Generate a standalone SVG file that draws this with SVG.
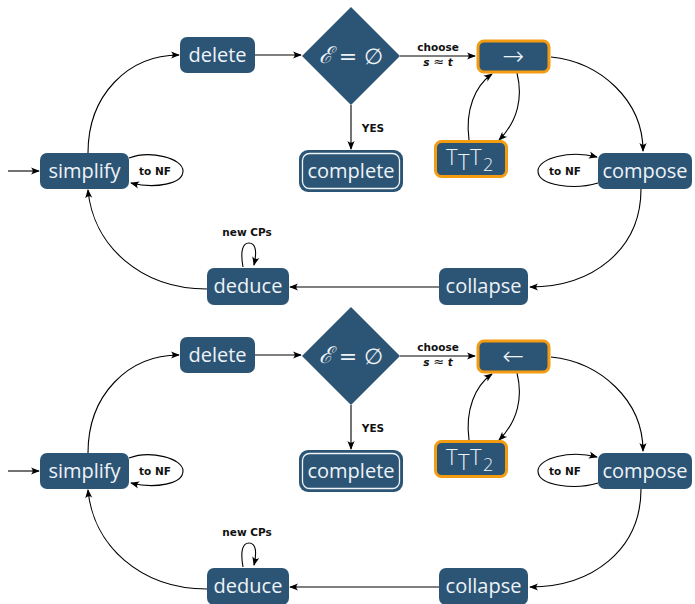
<svg xmlns="http://www.w3.org/2000/svg" width="695" height="604" viewBox="0 0 695 604">
  <style>
    .node { fill: #2c5575; }
    .hl { fill: #2c5575; stroke: #f39c12; stroke-width: 3; }
    .ntext { font-family: "Open Sans", "Liberation Sans", sans-serif; font-size: 20px; fill: #eef3f8; text-anchor: middle; }
    .logo { font-family: "Open Sans", "Liberation Sans", sans-serif; font-weight: 300; font-size: 22px; fill: #eef3f8; }
    .math { font-family: "DejaVu Serif", "Liberation Serif", serif; fill: #eef3f8; text-anchor: middle; }
    .arrowglyph { font-family: "DejaVu Sans", sans-serif; font-weight: 200; font-size: 26px; fill: #eef3f8; text-anchor: middle; }
    .lbl { font-family: "DejaVu Sans", "Liberation Sans", sans-serif; font-size: 10.5px; font-weight: 700; fill: #111; text-anchor: middle; }
    .edge { fill: none; stroke: #000; stroke-width: 1.1; marker-end: url(#arr); }
    .loop { fill: none; stroke: #000; stroke-width: 1.1; marker-end: url(#arr); }
  </style>
  <defs>
    <marker id="arr" viewBox="0 0 10 10" refX="9" refY="5" markerWidth="9" markerHeight="9" markerUnits="userSpaceOnUse" orient="auto">
      <path d="M0,1 Q4,5 0,9 L10,5 Z" fill="#000"/>
    </marker>
  </defs>

  <!-- upper cycle -->
  <g id="top">
    <g id="top-connectors">
      <path class="edge" d="M8,171 L39,171"/>
      <path class="edge" d="M88,153 C88,95 128,55 179,55"/>
      <path class="edge" d="M255,55 L301,55"/>
      <path class="edge" d="M400,56 L475,56"/>
      <path class="edge" d="M351,105 L351,149"/>
      <path class="edge" d="M551,57 C600,62 643,100 643,151"/>
      <path class="edge" d="M469,140 C465,110 475,86 492,74"/>
      <path class="edge" d="M517,73 C523,97 518,121 499,140"/>
      <path class="edge" d="M641,189 C641,250 592,287 530,287"/>
      <path class="edge" d="M439,287 L290,287"/>
      <path class="edge" d="M207,289 C140,289 93,245 88,190"/>
      <path class="loop" d="M129,158 C150,150 183,158 183,171 C183,184 155,189 131,183"/>
      <path class="loop" d="M598,183 C575,190 538,186 538,171 C538,158 570,150 597,157"/>
      <path class="loop" d="M243,267 C240,250 243,243 249,243 C256,243 257,252 254,265"/>
      <text class="lbl" x="438" y="51">choose</text>
      <text class="lbl" x="438" y="66"><tspan font-style="italic">s</tspan> <tspan font-size="13" font-weight="400">≈</tspan> <tspan font-style="italic">t</tspan></text>
      <text class="lbl" x="373" y="132">YES</text>
      <text class="lbl" x="155" y="175">to NF</text>
      <text class="lbl" x="565" y="175">to NF</text>
      <text class="lbl" x="247" y="236">new CPs</text>
    </g>
    <g id="top-simplify">
      <rect class="node" x="40" y="153" width="89" height="36" rx="7"/>
      <text class="ntext" x="84.5" y="178">simplify</text>
    </g>
    <g id="top-delete">
      <rect class="node" x="180" y="37" width="75" height="36" rx="7"/>
      <text class="ntext" x="217.5" y="62">delete</text>
    </g>
    <g id="top-check">
      <polygon class="node" points="351,7 400,56 351,105 302,56"/>
      <text class="math" x="326" y="63" font-size="23" font-style="italic">ℰ</text>
      <text class="math" x="348" y="64" font-size="22">=</text>
      <text class="math" x="373" y="64" font-size="22">∅</text>
    </g>
    <g id="top-orient">
      <rect class="hl" x="478" y="41" width="71" height="31" rx="6"/>
      <text class="arrowglyph" x="513.5" y="65">→</text>
    </g>
    <g id="top-ttt2">
      <rect class="hl" x="435.5" y="141.5" width="71" height="35" rx="6"/>
      <text class="logo" x="446" y="165">T<tspan x="458" y="170">T</tspan><tspan x="470" y="165">T</tspan><tspan x="483" y="171" font-size="18">2</tspan></text>
    </g>
    <g id="top-complete">
      <rect class="node" x="299" y="150" width="104" height="42" rx="9"/>
      <rect x="302.5" y="153.5" width="97" height="35" rx="7" fill="none" stroke="#eef3f8" stroke-width="1.3"/>
      <text class="ntext" x="351" y="178">complete</text>
    </g>
    <g id="top-compose">
      <rect class="node" x="598" y="153" width="94" height="36" rx="7"/>
      <text class="ntext" x="645" y="178">compose</text>
    </g>
    <g id="top-collapse">
      <rect class="node" x="439" y="268" width="89" height="37" rx="7"/>
      <text class="ntext" x="483.5" y="293">collapse</text>
    </g>
    <g id="top-deduce">
      <rect class="node" x="207" y="268" width="82" height="37" rx="7"/>
      <text class="ntext" x="248" y="293">deduce</text>
    </g>
  </g>

  <!-- lower cycle -->
  <g id="bottom" transform="translate(0,300)">
    <g id="bot-connectors">
      <path class="edge" d="M8,171 L39,171"/>
      <path class="edge" d="M88,153 C88,95 128,55 179,55"/>
      <path class="edge" d="M255,55 L301,55"/>
      <path class="edge" d="M400,56 L475,56"/>
      <path class="edge" d="M351,105 L351,149"/>
      <path class="edge" d="M551,57 C600,62 643,100 643,151"/>
      <path class="edge" d="M469,140 C465,110 475,86 492,74"/>
      <path class="edge" d="M517,73 C523,97 518,121 499,140"/>
      <path class="edge" d="M641,189 C641,250 592,287 530,287"/>
      <path class="edge" d="M439,287 L290,287"/>
      <path class="edge" d="M207,289 C140,289 93,245 88,190"/>
      <path class="loop" d="M129,158 C150,150 183,158 183,171 C183,184 155,189 131,183"/>
      <path class="loop" d="M598,183 C575,190 538,186 538,171 C538,158 570,150 597,157"/>
      <path class="loop" d="M243,267 C240,250 243,243 249,243 C256,243 257,252 254,265"/>
      <text class="lbl" x="438" y="51">choose</text>
      <text class="lbl" x="438" y="66"><tspan font-style="italic">s</tspan> <tspan font-size="13" font-weight="400">≈</tspan> <tspan font-style="italic">t</tspan></text>
      <text class="lbl" x="373" y="132">YES</text>
      <text class="lbl" x="155" y="175">to NF</text>
      <text class="lbl" x="565" y="175">to NF</text>
      <text class="lbl" x="247" y="236">new CPs</text>
    </g>
    <g id="bot-simplify">
      <rect class="node" x="40" y="153" width="89" height="36" rx="7"/>
      <text class="ntext" x="84.5" y="178">simplify</text>
    </g>
    <g id="bot-delete">
      <rect class="node" x="180" y="37" width="75" height="36" rx="7"/>
      <text class="ntext" x="217.5" y="62">delete</text>
    </g>
    <g id="bot-check">
      <polygon class="node" points="351,7 400,56 351,105 302,56"/>
      <text class="math" x="326" y="63" font-size="23" font-style="italic">ℰ</text>
      <text class="math" x="348" y="64" font-size="22">=</text>
      <text class="math" x="373" y="64" font-size="22">∅</text>
    </g>
    <g id="bot-orient">
      <rect class="hl" x="478" y="41" width="71" height="31" rx="6"/>
      <text class="arrowglyph" x="513.5" y="65">←</text>
    </g>
    <g id="bot-ttt2">
      <rect class="hl" x="435.5" y="141.5" width="71" height="35" rx="6"/>
      <text class="logo" x="446" y="165">T<tspan x="458" y="170">T</tspan><tspan x="470" y="165">T</tspan><tspan x="483" y="171" font-size="18">2</tspan></text>
    </g>
    <g id="bot-complete">
      <rect class="node" x="299" y="150" width="104" height="42" rx="9"/>
      <rect x="302.5" y="153.5" width="97" height="35" rx="7" fill="none" stroke="#eef3f8" stroke-width="1.3"/>
      <text class="ntext" x="351" y="178">complete</text>
    </g>
    <g id="bot-compose">
      <rect class="node" x="598" y="153" width="94" height="36" rx="7"/>
      <text class="ntext" x="645" y="178">compose</text>
    </g>
    <g id="bot-collapse">
      <rect class="node" x="439" y="268" width="89" height="37" rx="7"/>
      <text class="ntext" x="483.5" y="293">collapse</text>
    </g>
    <g id="bot-deduce">
      <rect class="node" x="207" y="268" width="82" height="37" rx="7"/>
      <text class="ntext" x="248" y="293">deduce</text>
    </g>
  </g>
</svg>
